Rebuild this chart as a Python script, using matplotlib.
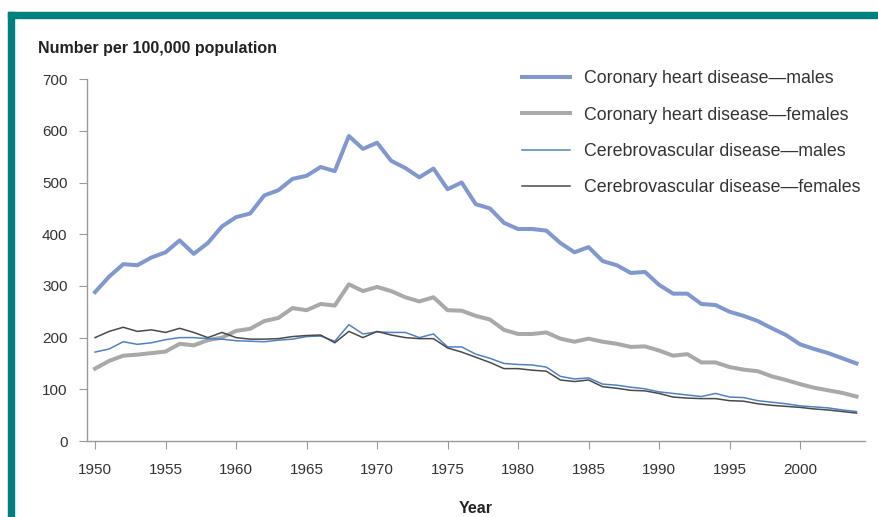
import numpy as np
import matplotlib
matplotlib.use("Agg")
import matplotlib.pyplot as plt
from matplotlib.patches import Rectangle

plt.rcParams['font.family'] = ['Liberation Sans', 'DejaVu Sans']

years = list(range(1950, 2005))

chd_males = [288, 318, 342, 340, 355, 365, 388, 362, 383, 415,
             433, 440, 475, 485, 507, 513, 530, 522, 590, 565,
             577, 542, 528, 510, 527, 487, 500, 458, 450, 422,
             410, 410, 407, 383, 365, 375, 348, 340, 325, 327,
             302, 285, 285, 265, 263, 250, 242, 232, 218, 205,
             187, 178, 170, 160, 150]

chd_females = [140, 155, 165, 167, 170, 173, 188, 185, 195, 200,
               213, 217, 232, 238, 257, 253, 265, 262, 303, 290,
               298, 290, 278, 270, 278, 253, 252, 242, 235, 215,
               207, 207, 210, 198, 192, 198, 192, 188, 182, 183,
               175, 165, 168, 152, 152, 143, 138, 135, 125, 118,
               110, 103, 98, 93, 86]

cbv_males = [172, 178, 192, 187, 190, 196, 200, 200, 198, 197,
             194, 193, 192, 195, 197, 202, 203, 193, 225, 207,
             211, 210, 210, 200, 207, 182, 182, 168, 160, 150,
             148, 147, 143, 125, 120, 122, 110, 108, 104, 101,
             95, 92, 89, 86, 92, 85, 84, 78, 75, 72,
             68, 66, 64, 60, 57]

cbv_females = [200, 212, 220, 212, 215, 210, 218, 210, 200, 210,
               200, 197, 197, 198, 202, 204, 205, 190, 212, 200,
               212, 205, 200, 198, 198, 180, 172, 162, 152, 140,
               140, 137, 135, 118, 115, 118, 105, 102, 98, 97,
               92, 85, 83, 82, 82, 78, 77, 72, 69, 67,
               65, 62, 60, 57, 54]

labels = ["Coronary heart disease\u2014males",
          "Coronary heart disease\u2014females",
          "Cerebrovascular disease\u2014males",
          "Cerebrovascular disease\u2014females"]

fig = plt.figure(figsize=(8.79, 5.17), dpi=100)
ax = fig.add_axes([0.099, 0.147, 0.885, 0.70])

ax.plot(years, chd_males, color="#8198cf", lw=2.9, label=labels[0], solid_joinstyle="round")
ax.plot(years, chd_females, color="#a9a9a9", lw=2.9, label=labels[1], solid_joinstyle="round")
ax.plot(years, cbv_males, color="#4f82c4", lw=1.1, label=labels[2])
ax.plot(years, cbv_females, color="#4a4a4a", lw=1.1, label=labels[3])

ax.set_xlim(1949.43, 2004.6)
ax.set_ylim(0, 700)
ax.set_xticks(range(1950, 2001, 5))
ax.set_yticks(range(0, 701, 100))

for s in ["top", "right"]:
    ax.spines[s].set_visible(False)
for s in ["left", "bottom"]:
    ax.spines[s].set_color("#9a9a9a")
    ax.spines[s].set_linewidth(1.0)

ax.tick_params(axis="both", colors="#9a9a9a", labelcolor="#333333", labelsize=11, length=6)
ax.tick_params(axis="y", pad=8)
ax.tick_params(axis="x", pad=10)

ax.set_xlabel("Year", fontsize=11.5, fontweight="bold", color="#222222", labelpad=17)
fig.text(38 / 879, 1 - 48 / 517, "Number per 100,000 population", fontsize=11.5,
         fontweight="bold", color="#222222", va="center", ha="left")

leg = ax.legend(loc="upper left", bbox_to_anchor=(0.538, 1.068), frameon=False, fontsize=12.8,
                handlelength=2.75, handletextpad=0.75, labelspacing=1.08)
for t in leg.get_texts():
    t.set_color("#333333")

# teal frame at the top and left
fig.patches.append(Rectangle((8 / 879, 0), 6 / 879, 1 - 12 / 517, transform=fig.transFigure,
                             color="#00807e", zorder=0))
fig.patches.append(Rectangle((8 / 879, 1 - 18 / 517), 1, 6 / 517, transform=fig.transFigure,
                             color="#00807e", zorder=0))

fig.savefig("out.png", dpi=100)
